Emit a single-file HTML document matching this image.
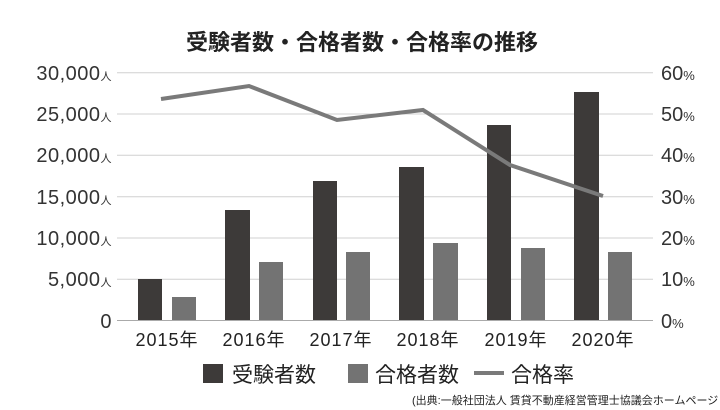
<!DOCTYPE html>
<html><head><meta charset="utf-8"><style>
body{margin:0;background:#fff;}
svg{display:block;font-family:"Liberation Sans","Noto Sans CJK JP",sans-serif;}
</style></head><body>
<svg width="720" height="410" viewBox="0 0 720 410">
<rect width="720" height="410" fill="#fff"/>
<text x="362" y="50" text-anchor="middle" font-size="22" font-weight="bold" fill="#222">受験者数・合格者数・合格率の推移</text>
<g stroke="#d0d0d0" stroke-width="1">
<line x1="117" x2="653" y1="72.7" y2="72.7"/>
<line x1="117" x2="653" y1="114" y2="114"/>
<line x1="117" x2="653" y1="155.3" y2="155.3"/>
<line x1="117" x2="653" y1="196.7" y2="196.7"/>
<line x1="117" x2="653" y1="238" y2="238"/>
<line x1="117" x2="653" y1="279.3" y2="279.3"/>
<line x1="117" x2="653" y1="320.5" y2="320.5" stroke="#aaa"/>
</g>
<g font-size="20" fill="#333" text-anchor="end" letter-spacing="0.5">
<text x="112" y="80">30,000<tspan font-size="11">人</tspan></text>
<text x="112" y="121">25,000<tspan font-size="11">人</tspan></text>
<text x="112" y="162">20,000<tspan font-size="11">人</tspan></text>
<text x="112" y="204">15,000<tspan font-size="11">人</tspan></text>
<text x="112" y="245">10,000<tspan font-size="11">人</tspan></text>
<text x="112" y="286">5,000<tspan font-size="11">人</tspan></text>
<text x="112" y="328">0</text>
</g>
<g font-size="20" fill="#333">
<text x="661" y="80">60<tspan font-size="13">%</tspan></text>
<text x="661" y="121">50<tspan font-size="13">%</tspan></text>
<text x="661" y="162">40<tspan font-size="13">%</tspan></text>
<text x="661" y="204">30<tspan font-size="13">%</tspan></text>
<text x="661" y="245">20<tspan font-size="13">%</tspan></text>
<text x="661" y="286">10<tspan font-size="13">%</tspan></text>
<text x="661" y="328">0<tspan font-size="13">%</tspan></text>
</g>
<g fill="#3d3a39">
<rect x="138" y="279" width="24" height="41"/>
<rect x="225" y="210" width="25" height="110"/>
<rect x="313" y="181" width="24" height="139"/>
<rect x="399" y="167" width="25" height="153"/>
<rect x="487" y="125" width="24" height="195"/>
<rect x="574" y="92" width="25" height="228"/>
</g>
<g fill="#737373">
<rect x="172" y="297" width="24" height="23"/>
<rect x="259" y="262" width="24" height="58"/>
<rect x="346" y="252" width="24" height="68"/>
<rect x="433" y="243" width="25" height="77"/>
<rect x="521" y="248" width="24" height="72"/>
<rect x="608" y="252" width="24" height="68"/>
</g>
<polyline points="161,99 249,86 337,120 423,110 510,165 603,196" fill="none" stroke="#7a7a7a" stroke-width="4"/>
<g font-size="18" fill="#222" text-anchor="middle" letter-spacing="1">
<text x="167" y="346">2015年</text>
<text x="254" y="346">2016年</text>
<text x="341" y="346">2017年</text>
<text x="428" y="346">2018年</text>
<text x="516" y="346">2019年</text>
<text x="603" y="346">2020年</text>
</g>
<rect x="203" y="364" width="20" height="19" fill="#3d3a39"/>
<text x="232" y="382" font-size="21" fill="#222">受験者数</text>
<rect x="348" y="364" width="20" height="19" fill="#737373"/>
<text x="375" y="382" font-size="21" fill="#222">合格者数</text>
<line x1="474" x2="504" y1="373" y2="373" stroke="#7a7a7a" stroke-width="4"/>
<text x="511" y="382" font-size="21" fill="#222">合格率</text>
<text x="412" y="404" font-size="11" fill="#222">(出典:一般社団法人 賃貸不動産経営管理士協議会ホームページ</text>
</svg>
</body></html>
